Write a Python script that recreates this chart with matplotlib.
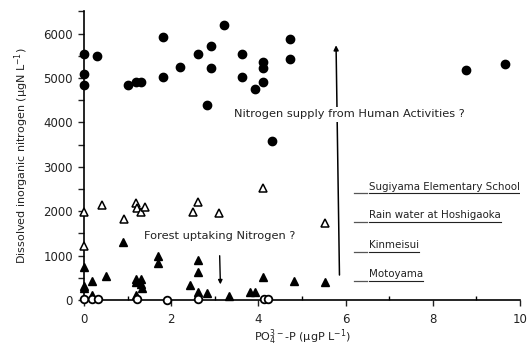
import numpy as np
import matplotlib.pyplot as plt
from matplotlib.ticker import MultipleLocator

# Filled circles (high nitrogen)
fc_x = [0, 0, 0, 0.30, 1.00, 1.20, 1.31, 1.81, 1.81, 2.21, 2.61, 2.81, 2.91, 2.91,
        3.21, 3.62, 3.62, 3.92, 4.11, 4.11, 4.11, 4.72, 4.72, 4.32, 8.75, 9.65]
fc_y = [5540, 5090, 4850, 5500, 4850, 4900, 4910, 5930, 5020, 5240, 5540, 4400, 5720, 5220,
        6190, 5540, 5030, 4760, 5370, 5220, 4920, 5870, 5420, 3590, 5190, 5320]

# Open triangles
ot_x = [0, 0, 0.41, 0.92, 1.19, 1.21, 1.31, 1.41, 2.51, 2.62, 3.10, 4.11, 5.53]
ot_y = [1990, 1220, 2140, 1820, 2180, 2070, 1980, 2100, 1990, 2210, 1950, 2520, 1740]

# Filled triangles
ft_x = [0, 0, 0, 0.19, 0.19, 0.50, 0.90, 1.19, 1.19, 1.30, 1.30, 1.32, 1.19, 1.70, 1.70,
        2.42, 2.61, 2.61, 2.61, 2.81, 3.33, 3.81, 3.92, 4.11, 4.82, 5.53]
ft_y = [740, 320, 260, 430, 110, 550, 1310, 470, 410, 470, 360, 260, 110, 990, 830,
        340, 890, 620, 190, 150, 90, 190, 190, 520, 430, 410]

# Open circles (near zero)
oc_x = [0, 0.19, 0.31, 1.21, 1.90, 2.61, 4.13, 4.23]
oc_y = [20, 15, 15, 15, 0, 15, 15, 15]

legend_labels = ["Sugiyama Elementary School", "Rain water at Hoshigaoka", "Kinmeisui", "Motoyama"]
legend_y = [2400, 1765, 1090, 430]

plt.rcParams['font.family'] = 'DejaVu Sans'
txt_color = '#222222'

fig = plt.figure(figsize=(5.31, 3.45), dpi=100)
ax = fig.add_axes([0.1582, 0.1304, 0.8211, 0.8365])

ax.plot(ot_x, ot_y, '^', ms=5.3, mfc='white', mec='black', mew=1.1, clip_on=False, zorder=3)
ax.plot(ft_x, ft_y, '^', ms=5.3, mfc='black', mec='black', clip_on=False, zorder=3)
ax.plot(oc_x, oc_y, 'o', ms=5.5, mfc='white', mec='black', mew=1.3, clip_on=False, zorder=4)
ax.plot(fc_x, fc_y, 'o', ms=6, mfc='black', mec='black', clip_on=False, zorder=3)

ax.set_xlim(0, 10)
ax.set_ylim(0, 6500)
ax.spines['top'].set_visible(False)
ax.spines['right'].set_visible(False)
ax.spines['left'].set_linewidth(1.2)
ax.spines['bottom'].set_linewidth(1.2)

ax.xaxis.set_major_locator(MultipleLocator(2))
ax.xaxis.set_minor_locator(MultipleLocator(1))
ax.yaxis.set_major_locator(MultipleLocator(1000))
ax.yaxis.set_minor_locator(MultipleLocator(500))
ax.tick_params(axis='x', which='major', direction='out', length=4, width=1, labelsize=8.5,
               colors=txt_color, pad=5)
ax.tick_params(axis='x', which='minor', direction='in', length=3, width=1)
ax.tick_params(axis='y', which='both', direction='out', length=4, width=1, labelsize=8.5,
               colors=txt_color, pad=4)

ax.set_xlabel("PO$_4^{3-}$-P (µgP L$^{-1}$)", fontsize=8, color=txt_color, labelpad=1)
ax.set_ylabel("Dissolved inorganic nitrogen (µgN L$^{-1}$)", fontsize=8, color=txt_color, labelpad=9)

# Annotation arrows
ax.annotate("", xy=(5.78, 5800), xytext=(5.86, 500),
            arrowprops=dict(arrowstyle='-|>', lw=1.1, color='black', mutation_scale=7))
ax.text(3.44, 4180, "Nitrogen supply from Human Activities ?", fontsize=8.2, color=txt_color,
        ha='left', va='center', bbox=dict(fc='white', ec='none', pad=2), zorder=5)

ax.annotate("", xy=(3.13, 290), xytext=(3.11, 1060),
            arrowprops=dict(arrowstyle='-|>', lw=1, color='black', mutation_scale=6))
ax.text(1.38, 1440, "Forest uptaking Nitrogen ?", fontsize=8.2, color=txt_color,
        ha='left', va='center', zorder=5)

# Legend-like labels with underline
fig.canvas.draw()
renderer = fig.canvas.get_renderer()
inv = ax.transData.inverted()
for lab, yy in zip(legend_labels, legend_y):
    t = ax.text(6.54, yy + 40, lab, fontsize=7.4, color=txt_color, ha='left', va='bottom')
    bb = t.get_window_extent(renderer)
    x_end = inv.transform((bb.x1, bb.y0))[0]
    ax.plot([6.2, 6.5], [yy, yy], color='#555555', lw=0.9)
    ax.plot([6.54, x_end], [yy, yy], color=txt_color, lw=0.8)

fig.savefig("out.png", dpi=100)
